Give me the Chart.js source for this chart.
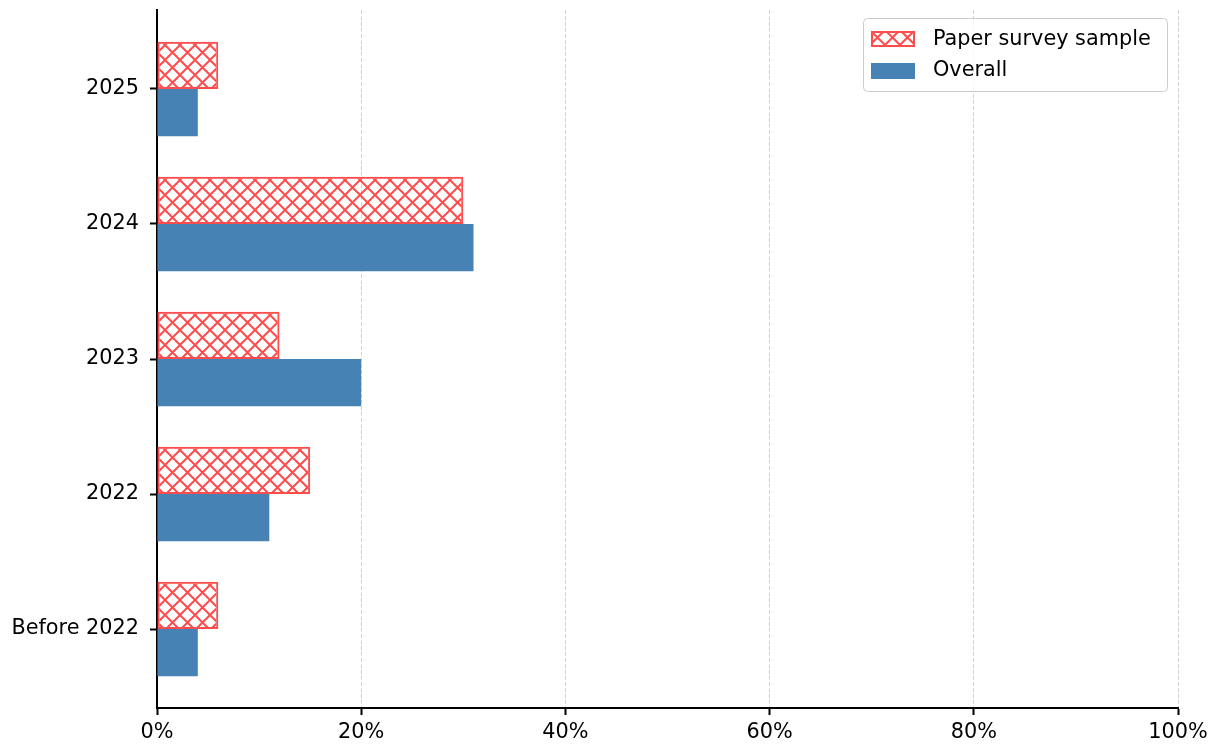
<!DOCTYPE html>
<html>
<head>
<meta charset="utf-8">
<script src="https://cdn.jsdelivr.net/npm/chart.js@4"></script>
<style>
  html, body { margin: 0; padding: 0; background: #fff; }
  #wrap { width: 1222px; height: 746px; }
</style>
</head>
<body>
<div id="wrap"><canvas id="chart"></canvas></div>
<script>
// data (top to bottom)
const years = ['2025', '2024', '2023', '2022', 'Before 2022'];
const paperSurvey = [6, 30, 12, 15, 6];
const overall = [4, 31, 20, 11, 4];
const xTicks = [0, 20, 40, 60, 80, 100];

const RED = '#ff4c4c';
const BLUE = '#4682b4';
const FONT = 'DejaVu Sans';

Chart.defaults.font.family = FONT;
Chart.defaults.color = '#000';

// crosshatch pattern like matplotlib 'xx'
const makeHatch = (color) => {
    const p = 15;
    const c = document.createElement('canvas');
    c.width = p;
    c.height = p;
    const g = c.getContext('2d');
    g.strokeStyle = color;
    g.lineWidth = 2;
    g.beginPath();
    for (const k of [-p, 0, p]) {
        g.moveTo(k, 0);
        g.lineTo(k + p, p);
        g.moveTo(k + p, 0);
        g.lineTo(k, p);
    }
    g.stroke();
    return g.createPattern(c, 'repeat');
};
const hatch = makeHatch(RED);

// legend box in the top right corner
const legendBox = {
    id: 'legendBox',
    afterDraw(chart) {
        const ctx = chart.ctx;
        ctx.save();
        ctx.beginPath();
        ctx.roundRect(863.5, 18.5, 304, 73, 4);
        ctx.fillStyle = 'rgba(255,255,255,0.8)';
        ctx.fill();
        ctx.strokeStyle = '#cccccc';
        ctx.lineWidth = 1;
        ctx.stroke();

        ctx.fillStyle = hatch;
        ctx.fillRect(871, 31, 44, 16);
        ctx.strokeStyle = RED;
        ctx.lineWidth = 2;
        ctx.strokeRect(872, 32, 42, 14);

        ctx.fillStyle = BLUE;
        ctx.fillRect(871, 63, 44, 16);

        ctx.fillStyle = '#000';
        ctx.font = '20.8px "' + FONT + '"';
        ctx.textBaseline = 'middle';
        ctx.fillText('Paper survey sample', 933, 40);
        ctx.fillText('Overall', 933, 71);
        ctx.restore();
    }
};

new Chart(document.getElementById('chart'), {
    type: 'bar',
    data: {
        datasets: [
            {
                label: 'Paper survey sample',
                data: paperSurvey.map((v, i) => ({ x: v, y: i })),
                backgroundColor: hatch,
                borderColor: RED,
                borderWidth: 2,
                borderSkipped: false,
            },
            {
                label: 'Overall',
                data: overall.map((v, i) => ({ x: v, y: i })),
                backgroundColor: BLUE,
                borderWidth: 0,
            },
        ],
    },
    options: {
        indexAxis: 'y',
        responsive: true,
        maintainAspectRatio: false,
        animation: false,
        categoryPercentage: 0.7,
        barPercentage: 1,
        layout: { padding: { top: 10, right: 44, left: 0, bottom: 0 } },
        plugins: {
            legend: { display: false },
            tooltip: { enabled: false },
        },
        scales: {
            x: {
                type: 'linear',
                min: 0,
                max: 100,
                afterBuildTicks: (axis) => { axis.ticks = xTicks.map(v => ({ value: v })); },
                afterFit: (axis) => {
                    axis.height = 38;
                    axis.paddingLeft = 0;
                    axis.paddingRight = 0;
                },
                ticks: {
                    font: { size: 20.8 },
                    padding: 5,
                    maxRotation: 0,
                    callback: (v) => v + '%',
                },
                grid: {
                    color: (c) => c.tick && c.tick.value === 0 ? 'rgba(0,0,0,0)' : 'rgba(0,0,0,0.22)',
                    lineWidth: 0.8,
                    tickColor: '#000',
                    tickWidth: 2,
                    tickLength: 7,
                    tickBorderDash: [],
                },
                border: { display: true, color: '#000', width: 2, dash: [4, 2] },
            },
            y: {
                type: 'linear',
                reverse: true,
                offset: false,
                min: -0.585,
                max: 4.585,
                afterBuildTicks: (axis) => { axis.ticks = years.map((_, i) => ({ value: i })); },
                afterFit: (axis) => {
                    axis.width = 157;
                    axis.paddingTop = 0;
                    axis.paddingBottom = 0;
                },
                ticks: {
                    font: { size: 20.8 },
                    padding: 11,
                    callback: (v) => years[v],
                },
                grid: {
                    offset: false,
                    drawOnChartArea: false,
                    tickColor: '#000',
                    tickWidth: 2,
                    tickLength: 7,
                },
                border: { display: true, color: '#000', width: 2 },
            },
        },
    },
    plugins: [legendBox],
});
</script>
</body>
</html>
